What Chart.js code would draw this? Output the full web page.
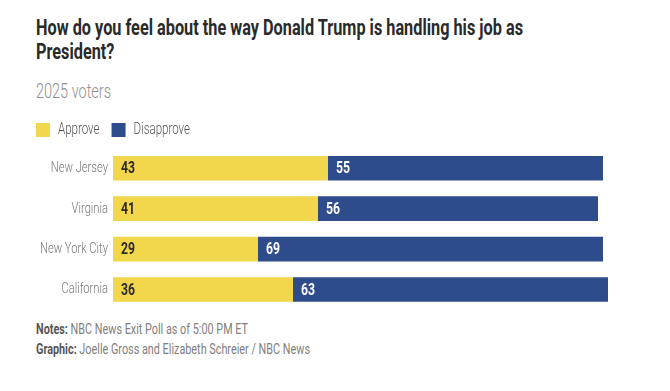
<!DOCTYPE html>
<html>
<head>
<meta charset="utf-8">
<script src="https://cdn.jsdelivr.net/npm/chart.js@4.4.1/dist/chart.umd.min.js"></script>
<style>
  body { margin: 0; background: #fff; font-family: Roboto, sans-serif; }
  #wrap { position: relative; width: 670px; height: 391px; overflow: hidden; }
  .squeeze { position: absolute; left: 36px; transform-origin: 0 0; white-space: nowrap; }
  .title { top: 16px; font-size: 22px; font-weight: bold; line-height: 24px; color: #2a2a2a; }
  .sub { top: 81px; font-size: 20px; font-weight: 300; line-height: 20px; color: #8f8f8f; }
  .notes { top: 319px; font-size: 15px; line-height: 20px; color: #808080; }
  .notes b { color: #555; }
  #chartBox { position: absolute; left: 0; top: 100px; width: 670px; height: 224px; }
</style>
</head>
<body>
<div id="wrap">
  <div class="squeeze title" data-w="487"><span>How do you feel about the way Donald Trump is handling his job as</span><br>President?</div>
  <div class="squeeze sub" data-w="75"><span>2025 voters</span></div>
  <div class="squeeze notes" data-w="212">
    <span><b>Notes:</b> NBC News Exit Poll as of 5:00 PM ET</span><br>
    <b>Graphic:</b> Joelle Gross and Elizabeth Schreier / NBC News
  </div>
  <div id="chartBox"><canvas id="exit-poll-chart"></canvas></div>
</div>
<script>
// Exit poll numbers (percent)
const places = ['New Jersey', 'Virginia', 'New York City', 'California'];
const approve = [43, 41, 29, 36];
const disapprove = [55, 56, 69, 63];

// the original uses a condensed face, so squeeze the text blocks to its widths
document.querySelectorAll('.squeeze').forEach(function(el) {
    const w = el.querySelector('span').getBoundingClientRect().width;
    el.style.transform = 'scaleX(' + (el.dataset.w / w) + ')';
});

// same idea for the canvas text: narrow every fillText / measureText
const SQUEEZE = 0.72;
const canvas = document.getElementById('exit-poll-chart');
const ctx = canvas.getContext('2d');
const origFill = ctx.fillText.bind(ctx);
const origMeasure = ctx.measureText.bind(ctx);
ctx.fillText = function(text, x, y, maxWidth) {
    ctx.save();
    ctx.translate(x, y);
    ctx.scale(SQUEEZE, 1);
    origFill(text, 0, 0);
    ctx.restore();
};
ctx.measureText = function(text) {
    const m = origMeasure(text);
    return {
        width: m.width * SQUEEZE,
        actualBoundingBoxAscent: m.actualBoundingBoxAscent,
        actualBoundingBoxDescent: m.actualBoundingBoxDescent,
        actualBoundingBoxLeft: m.actualBoundingBoxLeft * SQUEEZE,
        actualBoundingBoxRight: m.actualBoundingBoxRight * SQUEEZE
    };
};

// draws the numbers inside each bar segment
const barLabels = {
    id: 'barLabels',
    afterDatasetsDraw(chart) {
        const c = chart.ctx;
        c.save();
        c.font = 'bold 17px Roboto';
        c.textBaseline = 'middle';
        c.textAlign = 'left';
        chart.data.datasets.forEach(function(ds, i) {
            const meta = chart.getDatasetMeta(i);
            c.fillStyle = i === 0 ? '#2b2b2b' : '#ffffff';
            meta.data.forEach(function(bar, j) {
                const start = Math.min(bar.base, bar.x);
                c.fillText(ds.data[j], start + 8, bar.y + 1);
            });
        });
        c.restore();
    }
};

new Chart(canvas, {
    type: 'bar',
    data: {
        labels: places,
        datasets: [
            {
                label: 'Approve',
                data: approve,
                backgroundColor: '#f2d64b',
                barPercentage: 0.61,
                categoryPercentage: 1
            },
            {
                label: 'Disapprove',
                data: disapprove,
                backgroundColor: '#2e4c8b',
                barPercentage: 0.61,
                categoryPercentage: 1
            }
        ]
    },
    options: {
        indexAxis: 'y',
        responsive: true,
        maintainAspectRatio: false,
        animation: false,
        layout: {
            padding: { left: 24, right: 57, top: 10, bottom: 5 }
        },
        plugins: {
            legend: {
                position: 'top',
                align: 'start',
                labels: {
                    boxWidth: 14,
                    boxHeight: 14,
                    padding: 12,
                    color: '#555',
                    font: { family: 'Roboto', size: 16, weight: '300' }
                }
            },
            tooltip: { enabled: false }
        },
        scales: {
            x: {
                stacked: true,
                min: 0,
                max: 100,
                display: false
            },
            y: {
                stacked: true,
                grid: { display: false, drawTicks: false, tickLength: 0 },
                border: { display: false },
                afterFit: function(scale) { scale.width = 89; },
                ticks: {
                    padding: 5,
                    color: '#777',
                    font: { family: 'Roboto', size: 15.5, weight: '300' }
                }
            }
        }
    },
    plugins: [barLabels]
});
</script>
</body>
</html>
